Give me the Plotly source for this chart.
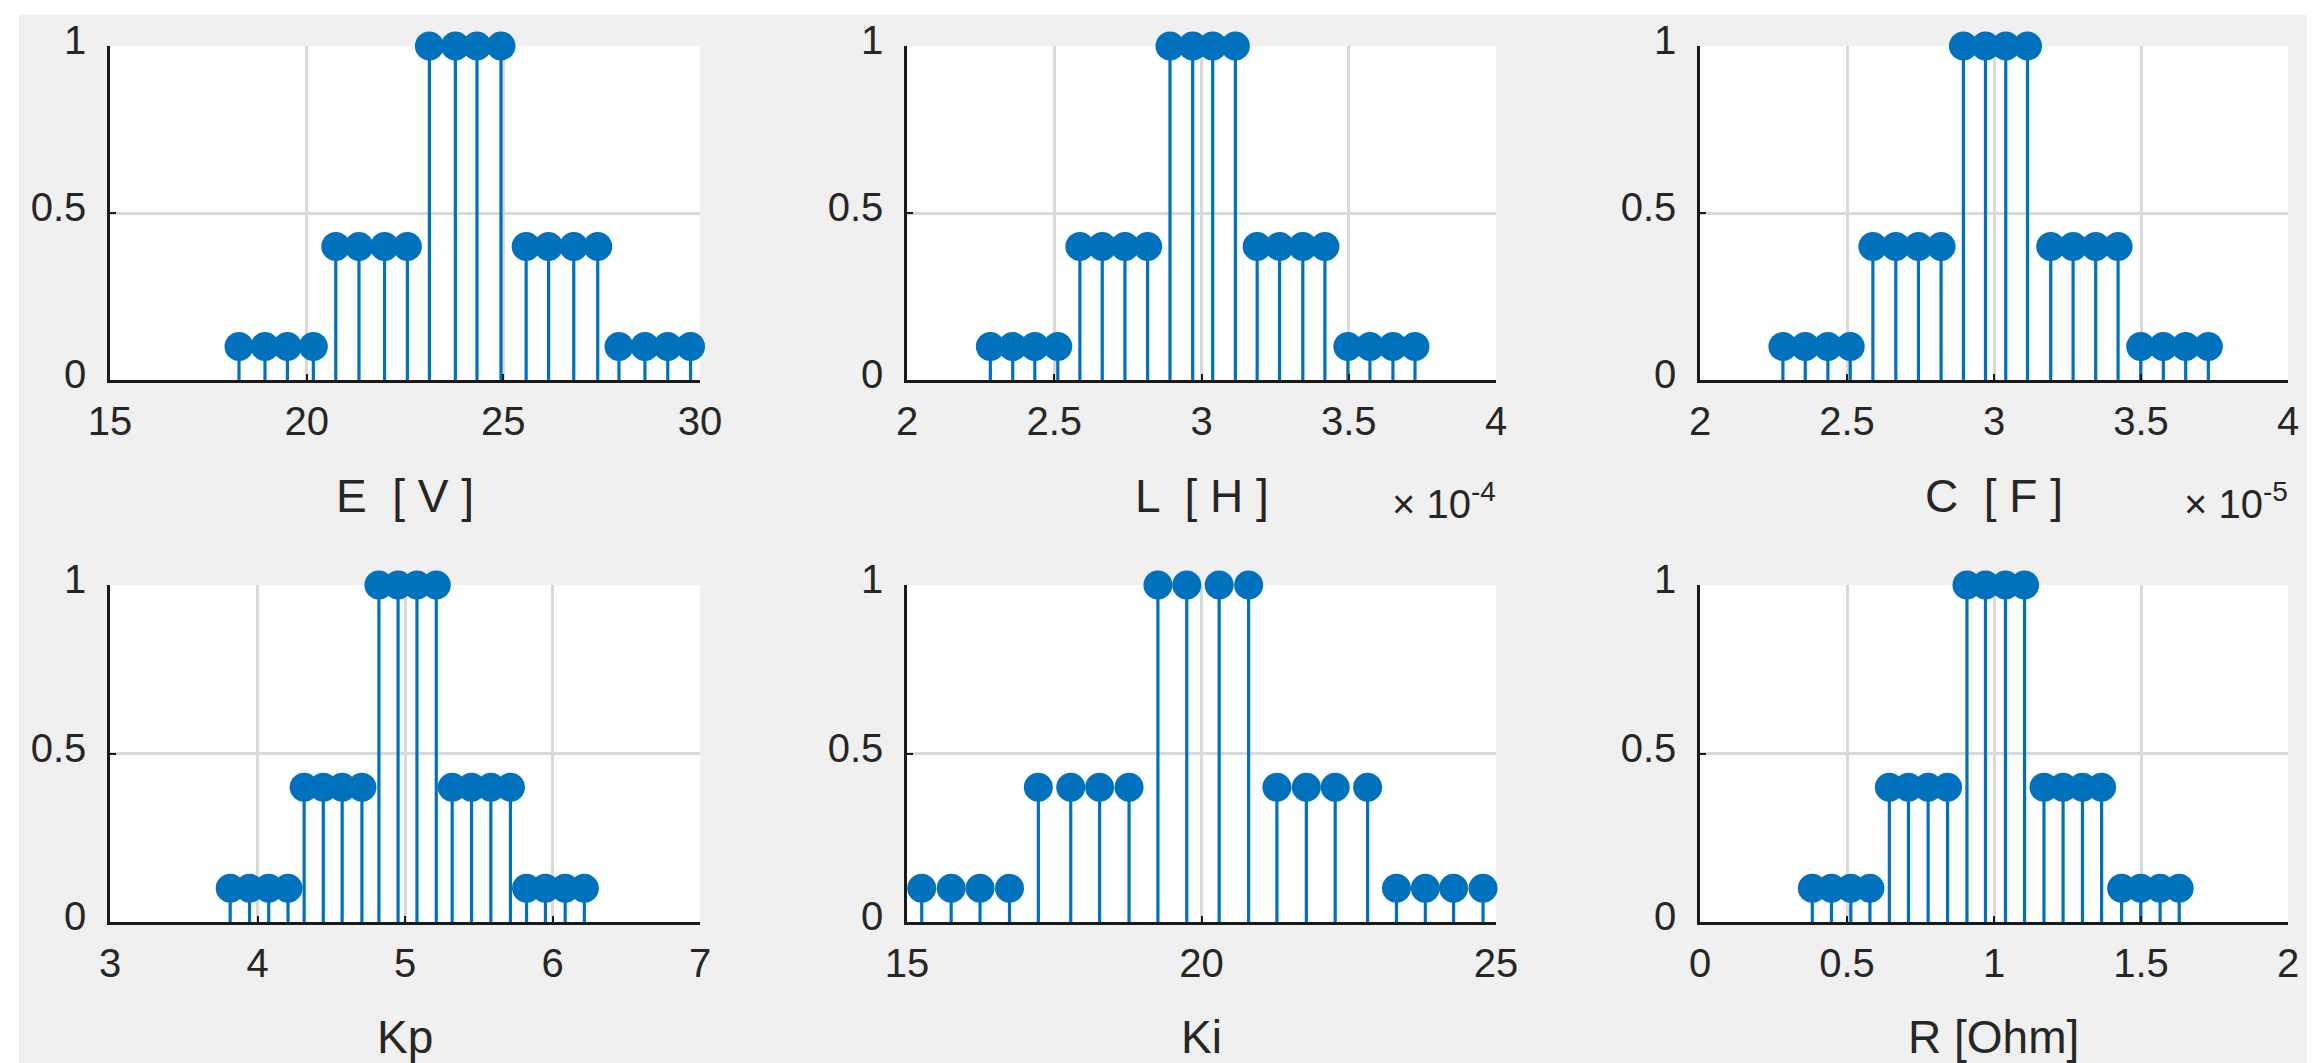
import plotly.graph_objects as go

W, H = 2315, 1063

# ---- data ----
membership = [0.1, 0.1, 0.1, 0.1, 0.4, 0.4, 0.4, 0.4, 1, 1, 1, 1,
              0.4, 0.4, 0.4, 0.4, 0.1, 0.1, 0.1, 0.1]

E_values = [18.28, 18.94, 19.51, 20.17, 20.74, 21.33, 21.98, 22.56, 23.12, 23.78,
            24.33, 24.94, 25.58, 26.15, 26.79, 27.40, 27.94, 28.60, 29.18, 29.76]
L_values_e4 = [2.283, 2.359, 2.434, 2.512, 2.587, 2.663, 2.740, 2.817, 2.893, 2.970,
               3.038, 3.115, 3.189, 3.265, 3.344, 3.419, 3.497, 3.572, 3.650, 3.725]
C_values_e5 = [2.282, 2.358, 2.435, 2.511, 2.588, 2.666, 2.743, 2.820, 2.896, 2.971,
               3.040, 3.114, 3.193, 3.269, 3.346, 3.422, 3.499, 3.576, 3.652, 3.729]
Kp_values = [3.815, 3.946, 4.076, 4.207, 4.316, 4.446, 4.574, 4.708, 4.823, 4.953,
             5.081, 5.212, 5.320, 5.451, 5.582, 5.715, 5.824, 5.952, 6.086, 6.216]
Ki_values = [15.25, 15.75, 16.24, 16.74, 17.23, 17.78, 18.27, 18.77, 19.26, 19.75,
             20.30, 20.80, 21.28, 21.78, 22.27, 22.82, 23.31, 23.80, 24.28, 24.78]
R_values = [0.382, 0.447, 0.513, 0.578, 0.644, 0.709, 0.776, 0.842, 0.908, 0.971,
            1.039, 1.104, 1.170, 1.235, 1.301, 1.366, 1.434, 1.499, 1.565, 1.630]

x_labels = ["E  [ V ]", "L  [ H ]", "C  [ F ]", "Kp", "Ki", "R [Ohm]"]
x_ranges = [[15, 30], [2, 4], [2, 4], [3, 7], [15, 25], [0, 2]]
x_ticks = [[15, 20, 25, 30], [2, 2.5, 3, 3.5, 4], [2, 2.5, 3, 3.5, 4],
           [3, 4, 5, 6, 7], [15, 20, 25], [0, 0.5, 1, 1.5, 2]]
x_multipliers = [None, "× 10<sup>-4</sup>", "× 10<sup>-5</sup>", None, None, None]
y_ticks = [0, 0.5, 1]
y_tick_labels = ["0", "0.5", "1"]

series = [E_values, L_values_e4, C_values_e5, Kp_values, Ki_values, R_values]

# ---- layout geometry (pixels) ----
cols_px = [(102, 692), (899, 1488), (1692, 2280)]
rows_px = [(38, 372), (577, 914)]
label_y_px = [488, 1029]
mult_y_px = [493]

BLUE = "#0072BD"
TXT = "#262626"
FONT = "Liberation Sans, Arial, Helvetica, sans-serif"

fig = go.Figure()
annotations = []

for i, xs in enumerate(series):
    r, c = divmod(i, 3)
    ax = "" if i == 0 else str(i + 1)
    x0, x1 = cols_px[c]
    y0, y1 = rows_px[r]
    xdom = [x0 / W, x1 / W]
    ydom = [1 - y1 / H, 1 - y0 / H]

    fig.add_trace(go.Scatter(
        x=xs, y=membership, mode="markers",
        xaxis="x" + ax, yaxis="y" + ax,
        marker=dict(size=29, color=BLUE, line=dict(width=0)),
        error_y=dict(type="data", symmetric=False,
                     array=[0] * len(xs), arrayminus=membership,
                     width=0, thickness=3.2, color=BLUE),
        cliponaxis=False, showlegend=False, hoverinfo="x+y",
    ))

    common = dict(showline=True, linecolor="#1a1a1a", linewidth=2.5,
                  showgrid=True, gridcolor="#d9d9d9", gridwidth=2.5,
                  zeroline=False, ticks="inside", ticklen=6, tickwidth=2,
                  tickcolor="#1a1a1a", automargin=False,
                  tickfont=dict(family=FONT, size=40, color=TXT))
    fig.layout["xaxis" + ax] = dict(
        domain=xdom, range=x_ranges[i], tickvals=x_ticks[i],
        ticktext=[f"{v:g}" for v in x_ticks[i]],
        anchor="y" + ax, ticklabelstandoff=4, **common)
    fig.layout["yaxis" + ax] = dict(
        domain=ydom, range=[0, 1], tickvals=y_ticks, ticktext=y_tick_labels,
        anchor="x" + ax, ticklabelstandoff=13, ticklabelshift=-6, **common)

    annotations.append(dict(
        text=x_labels[i], x=(xdom[0] + xdom[1]) / 2, y=1 - label_y_px[r] / H,
        xref="paper", yref="paper", showarrow=False, xanchor="center",
        yanchor="middle", font=dict(family=FONT, size=46, color=TXT)))
    if x_multipliers[i]:
        annotations.append(dict(
            text=x_multipliers[i], x=xdom[1] + 2 / W, y=1 - mult_y_px[r] / H,
            xref="paper", yref="paper", showarrow=False, xanchor="right",
            yanchor="middle", font=dict(family=FONT, size=40, color=TXT)))

fig.update_layout(
    template="none",
    width=W, height=H,
    margin=dict(l=0, r=0, t=0, b=0, pad=0, autoexpand=False),
    paper_bgcolor="#f0f0f0", plot_bgcolor="white",
    annotations=annotations,
    shapes=[
        dict(type="rect", xref="paper", yref="paper",
             x0=0, x1=1, y0=1 - 7 / H, y1=1,
             fillcolor="white", line=dict(width=0), layer="above"),
        dict(type="rect", xref="paper", yref="paper",
             x0=0, x1=11 / W, y0=0, y1=1,
             fillcolor="white", line=dict(width=0), layer="above"),
    ],
)

fig.write_html("out.html", config={"displayModeBar": False})
